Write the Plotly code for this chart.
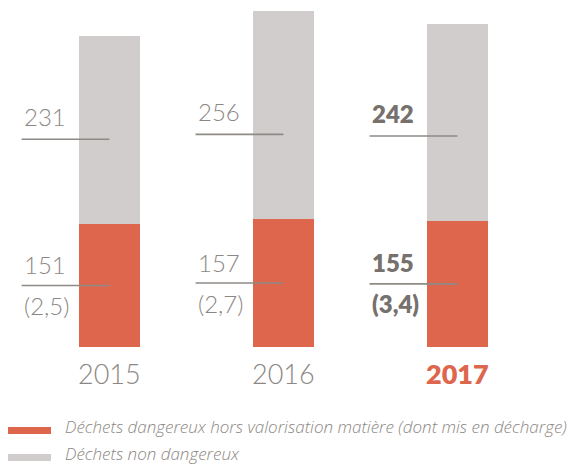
import plotly.graph_objects as go

# Tonnages de déchets par année (kt)
years = ["2015", "2016", "2017"]
dangerous = [151, 157, 155]          # déchets dangereux hors valorisation matière
landfilled = ["(2,5)", "(2,7)", "(3,4)"]  # dont mis en décharge
non_dangerous = [231, 256, 242]      # déchets non dangereux
legend_labels = [
    "Déchets dangereux hors valorisation matière (dont mis en décharge)",
    "Déchets non dangereux",
]

ORANGE = "#DD664D"
GREY_BAR = "#D1CDCC"
TEXT = "#8C8783"
TEXT_BOLD = "#76716D"
LINE = "#8E8A86"
FONT = "Lato"

W, H = 579, 466
PLOT_BOTTOM = 347  # pixel row of the baseline
px_x = lambda p: p / W
px_y = lambda p: (PLOT_BOTTOM - p) / PLOT_BOTTOM

x = list(range(len(years)))
fig = go.Figure()
fig.add_bar(x=x, y=dangerous, marker=dict(color=ORANGE, line=dict(width=0)),
            width=0.35, name=legend_labels[0], hoverinfo="skip")
fig.add_bar(x=x, y=non_dangerous, marker=dict(color=GREY_BAR, line=dict(width=0)),
            width=0.35, name=legend_labels[1], hoverinfo="skip")

shapes, annotations = [], []
last = len(years) - 1
for i, (d, nd, lf, yr) in enumerate(zip(dangerous, non_dangerous, landfilled, years)):
    bold = i == last
    vfont = dict(family=FONT, size=24, color=TEXT_BOLD if bold else TEXT,
                 weight=800 if bold else 300)
    y_up = d + 104      # leader line a fixed distance into the grey segment
    y_low = d / 2
    for yy in (y_up, y_low):
        shapes.append(dict(type="line", xref="x", yref="y", x0=i - 0.505, x1=i,
                           y0=yy, y1=yy, line=dict(color=LINE, width=1.6),
                           layer="above"))
    annotations.append(dict(x=i - 0.505, y=y_up, xref="x", yref="y", text=str(nd),
                            showarrow=False, xanchor="left", yanchor="middle",
                            yshift=23, font=vfont))
    annotations.append(dict(x=i - 0.505, y=y_low, xref="x", yref="y", text=str(d),
                            showarrow=False, xanchor="left", yanchor="middle",
                            yshift=21, font=vfont))
    annotations.append(dict(x=i - 0.505, y=y_low, xref="x", yref="y", text=lf,
                            showarrow=False, xanchor="left", yanchor="middle",
                            yshift=-20, font=vfont))
    annotations.append(dict(x=i, y=0, xref="x", yref="y", text=yr, showarrow=False,
                            xanchor="center", yanchor="middle", yshift=-26,
                            font=dict(family=FONT, size=27,
                                      color=ORANGE if bold else TEXT,
                                      weight=800 if bold else 300)))

# Legend drawn as thin swatches with italic labels
for k, (col, lab) in enumerate(zip([ORANGE, GREY_BAR], legend_labels)):
    top = 427 + 27 * k
    shapes.append(dict(type="rect", xref="paper", yref="paper",
                       x0=px_x(8), x1=px_x(51), y0=px_y(top), y1=px_y(top + 7),
                       fillcolor=col, line=dict(width=0)))
    annotations.append(dict(x=px_x(64), y=px_y(top + 11.5), xref="paper", yref="paper",
                            text=lab, showarrow=False, xanchor="left",
                            yanchor="bottom", borderpad=0,
                            font=dict(family="Open Sans", size=17, color=TEXT,
                                      weight=300, style="italic")))

fig.update_layout(
    width=W, height=H, barmode="stack", showlegend=False,
    margin=dict(l=0, r=0, t=0, b=H - PLOT_BOTTOM, pad=0),
    paper_bgcolor="white", plot_bgcolor="white",
    xaxis=dict(range=[-0.629, -0.629 + W / 174], visible=False, fixedrange=True),
    yaxis=dict(range=[0, PLOT_BOTTOM / 0.8145], visible=False, fixedrange=True),
    shapes=shapes, annotations=annotations,
)
fig.write_html("out.html", config={"displayModeBar": False})
